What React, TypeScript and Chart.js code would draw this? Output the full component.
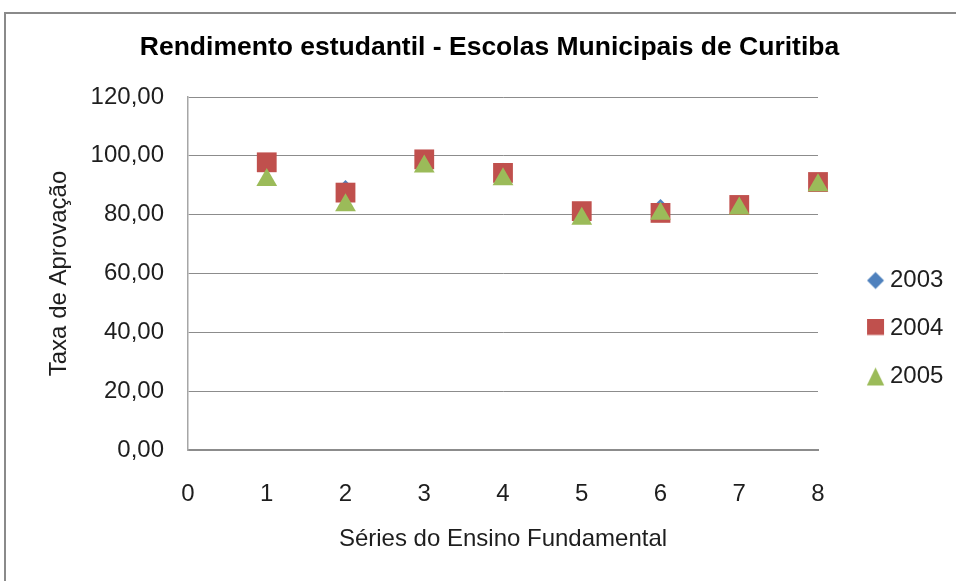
import { useEffect, useRef } from 'react';
import { Chart, registerables } from 'chart.js';

Chart.register(...registerables);

// ---- data ----
const CHART_TITLE = 'Rendimento estudantil - Escolas Municipais de Curitiba';
const X_TITLE = 'Séries do Ensino Fundamental';
const Y_TITLE = 'Taxa de Aprovação';
const SERIES_LABELS = ['2003', '2004', '2005'];
const GRADES = [1, 2, 3, 4, 5, 6, 7, 8];
const APPROVAL_2003 = [97.5, 89.6, 99.6, 95.4, 81.0, 83.1, 83.2, 91.0];
const APPROVAL_2004 = [97.8, 87.5, 98.8, 94.2, 81.2, 80.6, 83.3, 91.1];
const APPROVAL_2005 = [91.8, 83.2, 96.4, 92.0, 78.6, 80.3, 82.1, 90.0];
const X_MIN = 0;
const X_MAX = 8;
const X_STEP = 1;
const Y_MIN = 0;
const Y_MAX = 120;
const Y_STEP = 20;

// ---- styles ----
const COLORS = ['#4F81BD', '#C0504D', '#9BBB59'];
const POINT_STYLES = ['rectRot', 'rect', 'triangle'];
const POINT_RADII = [6.5, 14, 12];
const FONT = "'Liberation Sans', Arial, sans-serif";
const TEXT = '#1e1e1e';
const PL = 25.6;
const PR = 2.6;

function makeMarker(kind: string, color: string): HTMLCanvasElement {
  const c = document.createElement('canvas');
  c.width = 52;
  c.height = 20;
  const ctx = c.getContext('2d')!;
  const cx = 26 + 15.5;
  const cy = 10;
  ctx.fillStyle = color;
  ctx.beginPath();
  if (kind === 'rectRot') {
    ctx.moveTo(cx, cy - 8.5);
    ctx.lineTo(cx + 8.5, cy);
    ctx.lineTo(cx, cy + 8.5);
    ctx.lineTo(cx - 8.5, cy);
  } else if (kind === 'rect') {
    ctx.rect(cx - 8.5, cy - 10.5, 17, 17);
  } else {
    ctx.moveTo(cx, cy - 9);
    ctx.lineTo(cx + 8.7, cy + 9);
    ctx.lineTo(cx - 8.7, cy + 9);
  }
  ctx.closePath();
  ctx.fill();
  return c;
}

const framePlugin = {
  id: 'frame',
  beforeDraw(chart: any) {
    const { ctx, width, height } = chart;
    ctx.save();
    ctx.fillStyle = '#ffffff';
    ctx.fillRect(0, 0, width, height);
    ctx.strokeStyle = '#8a8a8a';
    ctx.lineWidth = 2;
    ctx.beginPath();
    ctx.moveTo(5, height + 2);
    ctx.lineTo(5, 13);
    ctx.lineTo(width + 2, 13);
    ctx.stroke();
    ctx.restore();
  },
};

export default function App() {
  const ref = useRef<HTMLCanvasElement | null>(null);

  useEffect(() => {
    if (!ref.current) return;
    const seriesValues = [APPROVAL_2003, APPROVAL_2004, APPROVAL_2005];
    const markers = POINT_STYLES.map((s, i) => makeMarker(s, COLORS[i]));
    const datasets = SERIES_LABELS.map((label, i) => ({
      label,
      data: GRADES.map((g, j) => ({ x: g, y: seriesValues[i][j] })),
      backgroundColor: COLORS[i],
      borderColor: COLORS[i],
      pointStyle: POINT_STYLES[i],
      pointRadius: POINT_RADII[i],
      pointHoverRadius: POINT_RADII[i],
      pointBorderWidth: 0,
      showLine: false,
      clip: false,
      order: SERIES_LABELS.length - 1 - i,
    }));

    const chart = new Chart(ref.current, {
      type: 'scatter',
      data: { datasets },
      plugins: [framePlugin],
      options: {
        responsive: false,
        animation: false,
        devicePixelRatio: 1,
        events: [],
        layout: { padding: { left: PL, right: PR, top: 0, bottom: 0 } },
        plugins: {
          tooltip: { enabled: false },
          title: {
            display: true,
            text: CHART_TITLE,
            color: '#000',
            font: { family: FONT, size: 26.5, weight: 'bold' },
            padding: { top: 31.5, bottom: 33.7 },
          },
          legend: {
            position: 'right',
            align: 'center',
            title: { display: true, text: '', font: { size: 10 }, padding: { top: 64, bottom: 0 } },
            labels: {
              usePointStyle: true,
              pointStyleWidth: 36,
              padding: 24,
              color: TEXT,
              font: { family: FONT, size: 24 },
              generateLabels: (ch: any) =>
                ch.data.datasets.map((ds: any, i: number) => ({
                  text: ds.label,
                  fillStyle: COLORS[i],
                  strokeStyle: COLORS[i],
                  lineWidth: 0,
                  pointStyle: markers[i],
                  hidden: false,
                  datasetIndex: i,
                  fontColor: TEXT,
                })),
            },
          },
        },
        scales: {
          x: {
            type: 'linear',
            position: 'bottom',
            min: X_MIN,
            max: X_MAX,
            ticks: { stepSize: X_STEP, padding: 30, color: TEXT, font: { family: FONT, size: 24 } },
            grid: { display: false, drawTicks: false },
            border: { display: true, color: '#8c8c8c', width: 2 },
            title: {
              display: true,
              text: X_TITLE,
              color: TEXT,
              font: { family: FONT, size: 24 },
              padding: { top: 0, bottom: 27 },
            },
            afterFit(s: any) {
              s.height = 131;
            },
          },
          y: {
            type: 'linear',
            min: Y_MIN,
            max: Y_MAX,
            ticks: {
              stepSize: Y_STEP,
              padding: 24,
              color: TEXT,
              font: { family: FONT, size: 24 },
              callback: (v: any) => Number(v).toFixed(2).replace('.', ','),
            },
            grid: { color: '#8c8c8c', lineWidth: 1, drawTicks: false },
            border: { display: true, color: '#a6a6a6', width: 1.5 },
            title: {
              display: true,
              text: Y_TITLE,
              color: TEXT,
              font: { family: FONT, size: 24 },
              padding: { top: 19, bottom: 0 },
            },
            afterFit(s: any) {
              s.width = 188 - PL;
            },
          },
        },
      } as any,
    });
    return () => chart.destroy();
  }, []);

  return (
    <div style={{ position: 'absolute', left: 0, top: 0, width: 956, height: 581 }}>
      <canvas ref={ref} width={956} height={581} style={{ display: 'block' }} />
    </div>
  );
}
